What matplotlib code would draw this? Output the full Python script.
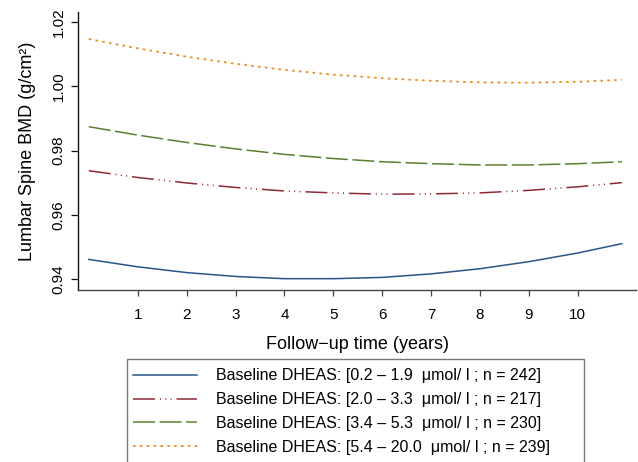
import matplotlib
matplotlib.use("Agg")
import matplotlib.pyplot as plt
from matplotlib.patches import Rectangle

plt.rcParams['font.family'] = ['Liberation Sans', 'DejaVu Sans']

# Follow-up time (years)
years = [0, 1, 2, 3, 4, 5, 6, 7, 8, 9, 10, 10.9]

# Estimated BMD curves (g/cm^2)
bmd_q1 = [0.9461, 0.9438, 0.9420, 0.9408, 0.9401, 0.9401, 0.9405, 0.9416, 0.9432, 0.9454, 0.9481, 0.9510]
bmd_q2 = [0.9737, 0.9716, 0.9699, 0.9685, 0.9674, 0.9668, 0.9664, 0.9665, 0.9668, 0.9676, 0.9687, 0.9700]
bmd_q3 = [0.9874, 0.9848, 0.9825, 0.9805, 0.9788, 0.9775, 0.9765, 0.9759, 0.9755, 0.9755, 0.9759, 0.9765]
bmd_q4 = [1.0147, 1.0118, 1.0092, 1.0070, 1.0051, 1.0036, 1.0025, 1.0017, 1.0012, 1.0011, 1.0014, 1.0020]

labels = [
    "Baseline DHEAS: [0.2 \u2013 1.9  \u03bcmol/ l ; n = 242]",
    "Baseline DHEAS: [2.0 \u2013 3.3  \u03bcmol/ l ; n = 217]",
    "Baseline DHEAS: [3.4 \u2013 5.3  \u03bcmol/ l ; n = 230]",
    "Baseline DHEAS: [5.4 \u2013 20.0  \u03bcmol/ l ; n = 239]",
]
xticks = [1, 2, 3, 4, 5, 6, 7, 8, 9, 10]
yticks = [0.94, 0.96, 0.98, 1.00, 1.02]
ytick_labels = ["0.94", "0.96", "0.98", "1.00", "1.02"]

colors = ["#2A5687", "#8C2A36", "#5A7E30", "#EE8A1C"]
styles = [
    "-",
    (0, (14.4, 3.2, 0.7, 2.8, 0.7, 2.8, 0.7, 3.2)),
    (0, (14.4, 3.0)),
    (0, (1.4, 2.4)),
]

fig = plt.figure(figsize=(6.38, 4.62), dpi=100)
W, H = 638, 462
ax = fig.add_axes([78 / W, 1 - 290 / H, (636 - 78) / W, (290 - 12) / H])

series = [bmd_q1, bmd_q2, bmd_q3, bmd_q4]
handles = []
for s, c, ls, lab in zip(series, colors, styles, labels):
    lw = 1.3 if c == "#EE8A1C" else 1.1
    h, = ax.plot(years, s, color=c, linestyle=ls, linewidth=lw, label=lab)
    handles.append(h)

ax.set_xlim(-0.221, 11.19)
ax.set_ylim(0.93658, 1.02311)
ax.set_xticks(xticks)
ax.set_xticklabels([str(t) for t in xticks], fontsize=11)
ax.set_yticks(yticks)
ax.set_yticklabels(ytick_labels, fontsize=11, rotation=90, va='center')

for sp in ['top', 'right']:
    ax.spines[sp].set_visible(False)
ax.spines['left'].set_color('#111111')
ax.spines['bottom'].set_color('#444444')
ax.spines['left'].set_linewidth(1.0)
ax.spines['bottom'].set_linewidth(1.0)
ax.tick_params(axis='y', length=5, width=0.9, pad=4, colors='#111111', labelcolor='black')
ax.tick_params(axis='x', length=4, width=0.9, pad=9, colors='#444444', labelcolor='black')

ax.set_xlabel("Follow\u2212up time (years)", fontsize=13, labelpad=10)
ax.set_ylabel("Lumbar Spine BMD (g/cm\u00b2)", fontsize=13, labelpad=11)

# legend frame (extends past bottom of figure)
fig.patches.append(Rectangle((127 / W, -0.05), (584 - 127) / W, 1 - 359 / H + 0.05,
                             transform=fig.transFigure, fill=False,
                             edgecolor='#777777', linewidth=1.0))
leg = fig.legend(handles=handles, labels=labels, loc='upper left',
                 bbox_to_anchor=(127 / W, 1 - 362 / H), frameon=False,
                 fontsize=11.5, handlelength=4.0, handletextpad=1.2,
                 labelspacing=0.55, borderaxespad=0, borderpad=0.4)

fig.savefig("out.png", dpi=100)
